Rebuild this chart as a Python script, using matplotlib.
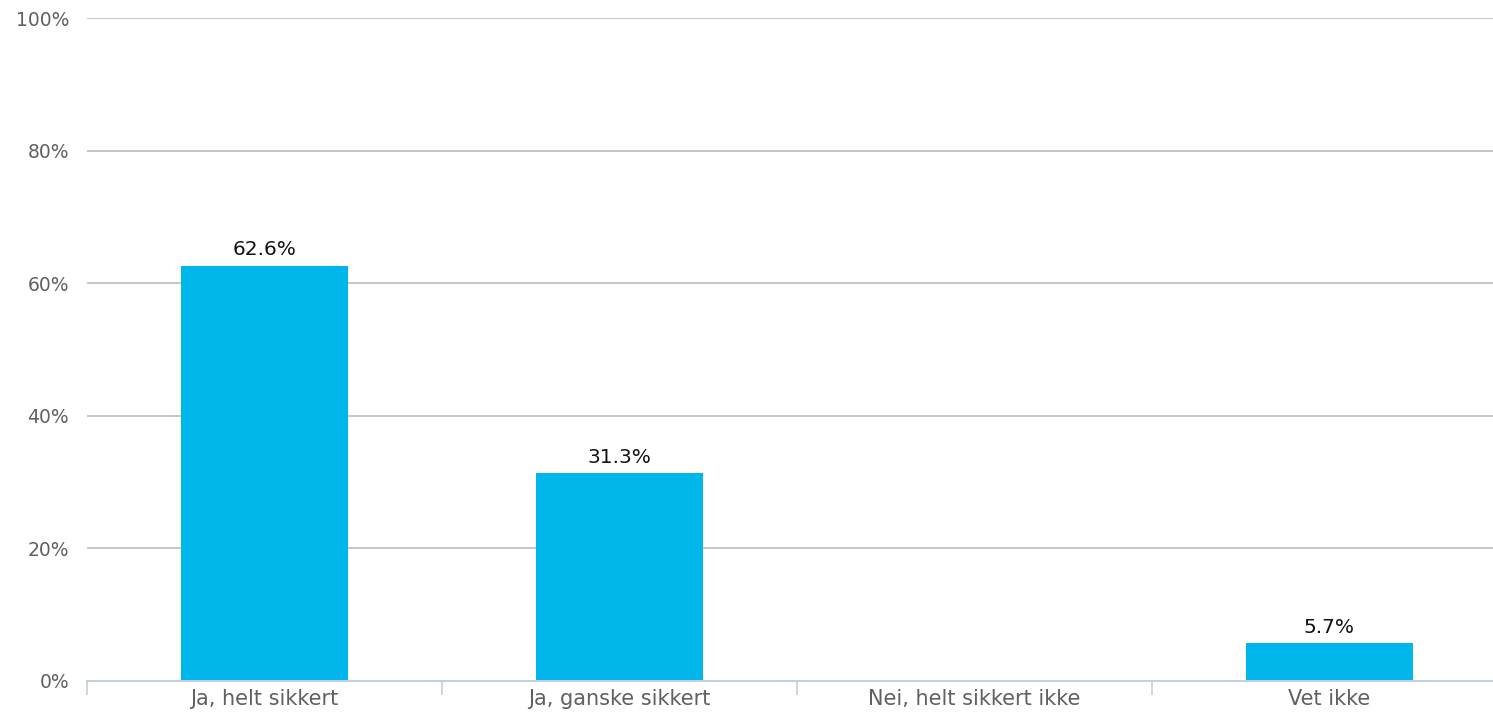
import matplotlib.pyplot as plt
from matplotlib.ticker import FixedLocator, NullFormatter

categories = ["Ja, helt sikkert", "Ja, ganske sikkert", "Nei, helt sikkert ikke", "Vet ikke"]
values = [62.6, 31.3, 0.0, 5.7]
value_labels = ["62.6%", "31.3%", None, "5.7%"]
y_ticks = [0, 20, 40, 60, 80, 100]

plt.rcParams["font.family"] = ["DejaVu Sans"]

fig = plt.figure(figsize=(14.93, 7.15), dpi=100)
# plot area runs past the right edge of the image, as in the original screenshot
ax = fig.add_axes([87 / 1493, 34 / 715, (1507 - 87) / 1493, (681 - 18) / 715])

x = list(range(len(categories)))
ax.bar(x, values, width=0.473, color="#00B6EA", zorder=3)

for xi, v, lab in zip(x, values, value_labels):
    if lab:
        ax.text(xi, v + 1.0, lab, ha="center", va="bottom", fontsize=14.5, color="#111111", zorder=4)

ax.set_xlim(-0.5, len(categories) - 0.5)
ax.set_ylim(0, 100)
ax.set_yticks(y_ticks)
ax.set_yticklabels([f"{t}%" for t in y_ticks])
ax.yaxis.grid(True, color="#C6C6C6", linewidth=1.4, zorder=0)
ax.tick_params(axis="y", length=0, pad=13, labelsize=13.5, labelcolor="#606060")

# category labels centered, tick marks at boundaries
ax.set_xticks(x)
ax.set_xticklabels(categories)
ax.tick_params(axis="x", which="major", length=0, pad=6, labelsize=15, labelcolor="#606060")
ax.xaxis.set_minor_locator(FixedLocator([i - 0.5 for i in range(len(categories) + 1)]))
ax.xaxis.set_minor_formatter(NullFormatter())
ax.tick_params(axis="x", which="minor", length=10, width=1.2, color="#C0D0E0")

for s in ["top", "right", "left"]:
    ax.spines[s].set_visible(False)
ax.spines["bottom"].set_color("#C0D0E0")
ax.spines["bottom"].set_linewidth(1.4)
ax.spines["bottom"].set_zorder(5)

fig.savefig("out.png", dpi=100)
